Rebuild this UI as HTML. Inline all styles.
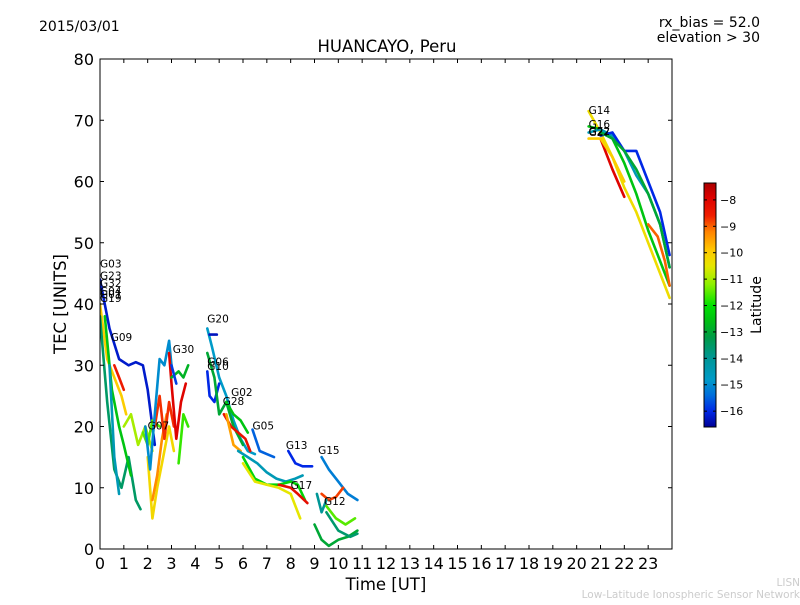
<!DOCTYPE html>
<html><head><meta charset="utf-8"><style>
body{margin:0;background:#fff;font-family:"Liberation Sans","DejaVu Sans",sans-serif}
svg text{font-family:"DejaVu Sans","Liberation Sans",sans-serif}
</style></head><body>
<svg id="c" width="800" height="600" xmlns="http://www.w3.org/2000/svg">
<rect width="800" height="600" fill="#fff"/>
<text x="39" y="31" font-size="14">2015/03/01</text>
<text x="760" y="27" font-size="14" text-anchor="end">rx_bias = 52.0</text>
<text x="760" y="42" font-size="14" text-anchor="end">elevation &gt; 30</text>
<text x="387" y="52" font-size="16.5" text-anchor="middle">HUANCAYO, Peru</text>
<text x="386" y="590" font-size="16.5" text-anchor="middle">Time [UT]</text>
<text transform="translate(66,304) rotate(-90)" font-size="16.5" text-anchor="middle">TEC [UNITS]</text>
<text transform="translate(761,305) rotate(-90)" font-size="14" text-anchor="middle">Latitude</text>
<text x="800" y="586" font-size="10.5" fill="#ccc" text-anchor="end">LISN</text>
<text x="800" y="598" font-size="10.5" fill="#ccc" text-anchor="end">Low-Latitude Ionospheric Sensor Network</text>
<defs><linearGradient id="jet" x1="0" y1="1" x2="0" y2="0"></linearGradient>
<clipPath id="pc"><rect x="100" y="59" width="572" height="490"/></clipPath></defs>
<g id="marks" clip-path="url(#pc)"></g>
<g id="axes"></g>
</svg>
<script>
const xTicks=[0,1,2,3,4,5,6,7,8,9,10,11,12,13,14,15,16,17,18,19,20,21,22,23];
const yTicks=[0,10,20,30,40,50,60,70,80];
const cbTicks=[-8,-9,-10,-11,-12,-13,-14,-15,-16];
const trackTimes=[
[0,0.4,0.8,1.2,1.5,1.8,2.0,2.2,2.3],[0,0.3,0.6,0.9,1.1],[0.6,0.8,1.0],[0,0.3,0.6,0.9,1.2,1.5,1.7],
[0.2,0.5,0.8,1.0,1.3],[0.4,0.6,0.8],[1.0,1.3,1.6,1.9,2.2],[1.8,2.0,2.2,2.5],[2.0,2.2,2.4,2.6,2.9,3.1],
[2.2,2.4,2.6,2.8],[2.3,2.5,2.7,2.9,3.1],[1.9,2.1,2.3,2.5,2.7,2.9,3.0],[2.9,3.0,3.2,3.4,3.6],
[3.0,3.3,3.5,3.7],[3.3,3.5,3.7],[3.0,3.2],
[4.5,4.7,5.0,5.3,5.6,5.9,6.2,6.5],[4.5,4.6,4.8,5.0],[4.6,4.9],[4.5,4.8,5.0,5.3,5.6,6.0],[5.3,5.6,5.9,6.2],
[5.2,5.5,5.8,6.1,6.3],[5.3,5.6,5.9],[6.4,6.7,7.0,7.3],[5.8,6.2,6.6,7.0,7.4,7.8,8.2,8.5],
[6.0,6.5,7.0,7.5,8.0,8.3,8.6],[6.0,6.5,7.0,7.5,8.0,8.4],[7.5,8.0,8.3,8.7],[7.9,8.2,8.5,8.9],
[9.3,9.6,10.0,10.4,10.8],[9.3,9.6,9.9,10.2],[9.1,9.3,9.5],[9.5,9.9,10.3,10.7],[9.0,9.3,9.6,10.0,10.4,10.8],[9.5,10.0,10.5,10.8],
[20.5,21.0,21.5,22.0,22.5,23.0,23.5,23.9],[21.0,21.5,22.0],[20.5,21,21.5,22,22.5,23,23.5,23.9],
[20.5,21,21.5,22,22.5,23,23.5,23.9],[21,21.5,22,22.5,23,23.5,23.9],[21,21.5,22,22.5,23,23.5,23.9],
[23.0,23.4,23.7,23.9],[20.5,21,21.5,22]];
const trackTec=[
[44,36,31,30,30.5,30,26,20,17],[40,31,28,25,22],[30,28,26],[38,24,13,10,15,8,6.5],
[38,26,20,17,12],[30,15,9],[20,22,17,20,16],[19,17,21,20],[15,5,10,14,20,16],
[8,12,18,22],[20,25,18,24,20],[20,13,22,31,30,34,30],[32,27,18,24,27],
[28,29,28,30],[14,22,20],[30,27],
[36,33,28,25,21,18,16,15.5],[29,25,24,27],[35,35],[32,28,22,24,20,17],[24,22,21,19],
[22,20,19,18,16],[22,17,16],[19.5,16,15.5,15],[16,15,14,12.5,11.5,11,11.5,12],
[15,11.5,10.5,10.5,11,10.5,8],[14,11,10.5,10,9,5],[10.5,10,9,7.5],[16,14,13.5,13.5],
[15,13,11,9,8],[9,8,8.5,10],[9,6,8],[7,5,4,5],[4,1.5,0.5,1.5,2,3],[6,3,2,2.5],
[71.5,68,64,59,55,50,45,41],[67,62,57.5],[69,68.5,67,63,58,52,47,43],
[68,68.5,67.5,65,61,58,53,46],[67.5,68,65,65,60,55,48],[68,67,65,62,58,53,46],
[53,51,47,43],[67,67,64,60]];
const trackLat=[-16.2,-10,-8.5,-13.5,-12.5,-14.5,-11,-11.5,-10.2,-9.3,-8.7,-15,-8,-12.8,-11.7,-15.8,
-14.8,-16,-16.3,-13,-12.5,-8.3,-9.5,-15.5,-14.5,-12.2,-10.5,-8.2,-16,-15.2,-8.8,-14,-11.5,-13,-13.6,
-10.3,-8,-12.5,-14.5,-16,-13,-9,-10];
const prnLabels=["G03","G23","G32","G04","G01","G19","G09","G30","G07","G20","G06","G10","G02","G28","G05","G13","G15","G17","G12","G14","G16","G22","G27"];
const labelT=[0,0,0,0,0,0,0.45,3.05,2.0,4.5,4.5,4.5,5.5,5.15,6.4,7.8,9.15,8.0,9.4,20.5,20.5,20.5,20.5];
const labelTec=[46,44,42.8,41.5,41,40.3,34,32,19.5,37,30,29.2,25,23.5,19.5,16.3,15.5,9.8,7.2,71,68.7,67.6,67.4];
const X=t=>100+t*572/24, Y=v=>549-v*490/80;
const vmin=-16.6,vmax=-7.36;
const CB=v=>427-(v-vmin)/(vmax-vmin)*244;
const cmapStops=[[-16.6,[0,0,150]],[-16.0,[0,40,230]],[-15.4,[0,110,220]],[-14.8,[0,155,200]],[-14.0,[0,150,150]],[-13.2,[0,155,70]],[-12.6,[0,190,20]],[-12.0,[0,225,0]],[-11.2,[140,240,0]],[-10.5,[230,230,0]],[-9.9,[255,200,0]],[-9.2,[255,130,0]],[-8.6,[240,30,0]],[-7.9,[220,0,0]],[-7.36,[170,0,0]]];
function cmap(v){v=Math.max(vmin,Math.min(vmax,v));
for(let i=0;i<cmapStops.length-1;i++){const a=cmapStops[i],b=cmapStops[i+1];
 if(v<=b[0]){const f=(v-a[0])/(b[0]-a[0]);const c=a[1].map((x,k)=>Math.round(x+(b[1][k]-x)*f));return `rgb(${c})`;}}
return `rgb(${cmapStops[cmapStops.length-1][1]})`;}
const NS="http://www.w3.org/2000/svg";
function mk(tag,at,par){const e=document.createElementNS(NS,tag);for(const k in at)e.setAttribute(k,at[k]);par.appendChild(e);return e;}
const grad=document.getElementById('jet');
cmapStops.forEach(s=>mk('stop',{offset:((s[0]-vmin)/(vmax-vmin)).toFixed(3),'stop-color':`rgb(${s[1]})`},grad));
const marks=document.getElementById('marks'),axes=document.getElementById('axes');
trackTimes.forEach((ts,i)=>{
 const p=mk('polyline',{points:ts.map((t,j)=>X(t).toFixed(1)+','+Y(trackTec[i][j]).toFixed(1)).join(' '),fill:'none',stroke:cmap(trackLat[i]),'stroke-width':2.6,'stroke-linejoin':'round','stroke-linecap':'round'},marks);
 
 
});
prnLabels.forEach((s,i)=>{
 const t=mk('text',{x:X(labelT[i]),y:Y(labelTec[i]),'font-size':10.5},axes);t.textContent=s;
 
 
});
const fr=mk('rect',{x:100,y:59,width:572,height:490,fill:'none',stroke:'#000','stroke-width':1},axes);


xTicks.forEach(t=>{
 mk('line',{x1:X(t),x2:X(t),y1:549,y2:545,stroke:'#000'},axes);
 mk('line',{x1:X(t),x2:X(t),y1:59,y2:63,stroke:'#000'},axes);
 const l=mk('text',{x:X(t),y:569,'font-size':16,'text-anchor':'middle'},axes);l.textContent=t;
 
 
});
yTicks.forEach(v=>{
 mk('line',{x1:100,x2:104,y1:Y(v),y2:Y(v),stroke:'#000'},axes);
 mk('line',{x1:672,x2:668,y1:Y(v),y2:Y(v),stroke:'#000'},axes);
 const l=mk('text',{x:94,y:Y(v)+6,'font-size':16,'text-anchor':'end'},axes);l.textContent=v;
 
 
});
const cb=mk('rect',{x:704,y:183,width:12,height:244,fill:'url(#jet)',stroke:'#000'},axes);


cbTicks.forEach(v=>{
 mk('line',{x1:704,x2:707,y1:CB(v),y2:CB(v),stroke:'#000'},axes);
 mk('line',{x1:716,x2:713,y1:CB(v),y2:CB(v),stroke:'#000'},axes);
 const l=mk('text',{x:720,y:CB(v)+4,'font-size':11},axes);l.textContent='\u2212'+Math.abs(v);
 
 
});
</script>
</body></html>
